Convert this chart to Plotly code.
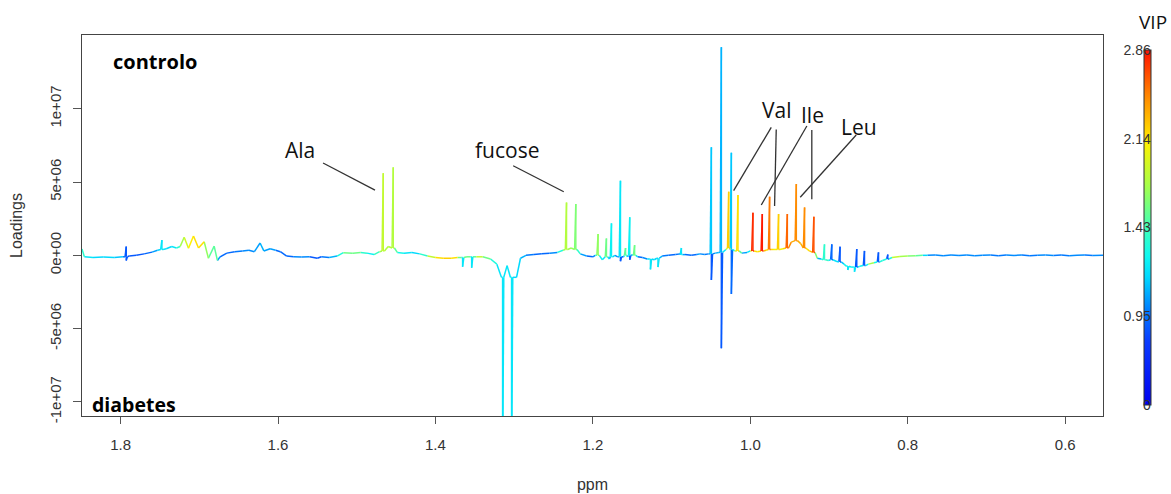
import numpy as np
import plotly.graph_objects as go
from plotly.colors import sample_colorscale

# ---------------- data ----------------
# baseline of the loadings spectrum: ppm, loading (x1e6), VIP
base_ppm = [1.849, 1.846, 1.835, 1.822, 1.808, 1.797, 1.789, 1.780, 1.770, 1.760, 1.753,
            1.742, 1.735, 1.729, 1.7243, 1.7192, 1.7137, 1.7074, 1.701, 1.6938, 1.6884, 1.6811,
            1.677, 1.6735, 1.665, 1.655, 1.645, 1.637, 1.630, 1.6228, 1.618, 1.610, 1.603,
            1.597, 1.589, 1.580, 1.570, 1.560, 1.550, 1.545, 1.535, 1.525, 1.517, 1.505,
            1.495, 1.487, 1.478, 1.471, 1.460, 1.4485, 1.440, 1.430, 1.420, 1.410, 1.400,
            1.390, 1.380, 1.372, 1.360, 1.348, 1.340, 1.330, 1.322, 1.309, 1.297, 1.292,
            1.285, 1.275, 1.265, 1.255, 1.245, 1.238, 1.2277, 1.216, 1.208, 1.200, 1.197,
            1.188, 1.179, 1.172, 1.1685, 1.161, 1.156, 1.1495, 1.143, 1.137, 1.131, 1.122,
            1.112, 1.104, 1.095, 1.089, 1.083, 1.075, 1.068, 1.064, 1.058, 1.053, 1.0445,
            1.040, 1.031, 1.020, 1.011, 1.004, 1.000, 0.991, 0.980, 0.970, 0.9585, 0.948,
            0.936, 0.925, 0.915, 0.910, 0.901, 0.891, 0.881, 0.872, 0.861, 0.850, 0.843,
            0.832, 0.820, 0.810, 0.800, 0.790, 0.781, 0.775, 0.765, 0.755, 0.745, 0.735,
            0.725, 0.715, 0.705, 0.695, 0.685, 0.675, 0.665, 0.655, 0.645, 0.635, 0.625,
            0.615, 0.605, 0.595, 0.585, 0.575, 0.565, 0.552]
base_val = [0.43, -0.10, -0.15, -0.12, -0.15, -0.10, -0.05, 0.00, 0.10, 0.22, 0.35,
            0.45, 0.60, 0.50, 0.60, 1.23, 0.48, 1.32, 0.50, 0.93, -0.20, 0.63,
            -0.35, -0.10, 0.15, 0.25, 0.30, 0.35, 0.25, 0.84, 0.30, 0.45, 0.35,
            0.25, -0.05, -0.10, -0.12, -0.10, -0.20, -0.10, -0.15, -0.05, 0.18, 0.15,
            0.20, 0.15, 0.05, 0.25, 0.60, 0.20, 0.15, 0.20, 0.10, -0.05, -0.15,
            -0.20, -0.20, -0.15, -0.10, -0.10, -0.10, -0.25, -0.60, -0.70, -1.50, -0.20,
            0.00, 0.05, 0.10, 0.15, 0.20, 0.35, 0.50, 0.10, -0.05, -0.10, 0.00,
            -0.30, -0.25, 0.00, -0.10, -0.10, -0.10, 0.05, -0.10, -0.15, -0.25, -0.30,
            -0.05, 0.00, 0.05, 0.10, 0.05, 0.00, 0.05, 0.10, 0.05, 0.10, 0.15,
            0.20, 0.40, 0.30, 0.15, 0.20, 0.30, 0.25, 0.35, 0.40, 0.45, 0.90,
            0.80, 0.30, -0.20, -0.25, -0.35, -0.40, -0.60, -0.80, -0.75, -0.60, -0.50,
            -0.35, -0.15, -0.08, -0.05, -0.02, 0.00, 0.00, 0.03, -0.02, 0.02, -0.01,
            0.02, -0.02, 0.01, 0.03, -0.02, 0.02, -0.01, 0.02, -0.02, 0.01, 0.02,
            -0.01, 0.02, -0.02, 0.01, 0.02, -0.01, 0.00]
base_vip = [1.50, 1.25, 1.20, 1.15, 1.20, 1.05, 0.85, 0.80, 0.85, 0.90, 1.15,
            1.20, 1.15, 1.25, 1.50, 2.00, 1.90, 2.30, 2.00, 2.30, 1.20, 2.00,
            1.20, 0.90, 0.85, 1.00, 0.90, 1.10, 0.90, 1.15, 1.00, 1.10, 1.00,
            0.85, 0.90, 0.85, 1.10, 0.85, 0.80, 0.90, 1.00, 1.20, 1.50, 1.60,
            1.50, 1.30, 1.20, 1.70, 1.80, 1.30, 1.25, 1.20, 1.10, 1.70, 2.10,
            2.20, 2.20, 2.10, 2.10, 2.00, 1.80, 1.40, 1.25, 1.20, 1.10, 1.20,
            1.00, 0.90, 0.85, 0.95, 1.10, 1.60, 1.70, 1.20, 0.90, 0.85, 1.10,
            0.80, 0.80, 1.10, 0.85, 0.85, 0.85, 1.20, 0.85, 0.90, 1.10, 1.15,
            1.00, 0.90, 0.95, 1.00, 0.90, 0.85, 1.00, 1.10, 0.95, 1.00, 1.10,
            1.10, 1.60, 1.60, 1.10, 1.00, 1.40, 1.60, 1.80, 1.90, 1.90, 2.30,
            2.20, 1.90, 0.85, 1.30, 1.50, 1.50, 1.40, 1.30, 1.70, 1.70, 1.80,
            1.90, 1.90, 1.80, 1.70, 1.60, 1.40, 0.95, 1.10, 0.85, 1.10, 0.85,
            1.10, 0.85, 1.10, 0.85, 1.05, 0.85, 1.10, 0.85, 1.05, 0.85, 1.10,
            0.85, 1.05, 0.85, 1.10, 0.85, 1.05, 0.95]

# narrow resonances: centre ppm, local base, maximum, minimum (x1e6),
# VIP of the upper part and VIP of the lower (negative) part
pk_ppm  = [1.7928, 1.7475, 1.4663, 1.4536, 1.3655, 1.354, 1.3147, 1.3033, 1.2335, 1.2217,
           1.1934, 1.1828, 1.1764, 1.165, 1.1585, 1.1532, 1.147, 1.1269, 1.1173, 1.0876,
           1.0495, 1.0368, 1.0275, 1.0241, 1.0157, 0.9967, 0.9848, 0.9755, 0.9641, 0.953,
           0.9416, 0.9311, 0.9193, 0.9058, 0.8965, 0.886, 0.8762, 0.8677, 0.8648, 0.855,
           0.8372, 0.8254]
pk_base = [-0.10, 0.40, 0.30, 0.50, -0.15, -0.10, -1.50, -1.50, 0.40, 0.40,
           0.00, -0.10, -0.10, -0.10, 0.00, 0.00, 0.00, -0.25, -0.20, 0.05,
           0.10, 0.20, 0.50, 0.40, 0.30, 0.30, 0.30, 0.40, 0.40, 0.50,
           1.00, 0.50, 0.20, -0.30, -0.30, -0.45, -0.75, -0.80, -0.80, -0.70,
           -0.45, -0.25]
pk_hi   = [0.60, 1.04, 5.60, 6.00, -0.15, -0.10, -1.50, -1.50, 3.60, 3.50,
           1.45, 1.15, 2.18, 5.09, 0.50, 2.60, 0.70, -0.25, -0.20, 0.50,
           7.37, 14.20, 4.34, 7.00, 4.11, 2.90, 2.82, 4.00, 2.82, 2.82,
           4.86, 3.27, 2.63, 0.75, 0.75, 0.59, -0.75, -0.80, 0.43, 0.30,
           0.20, 0.05]
pk_lo   = [-0.35, 0.40, 0.30, 0.50, -0.78, -0.85, -16.0, -15.5, 0.40, 0.40,
           0.00, -0.10, -0.10, -0.40, 0.00, -0.30, 0.00, -0.96, -0.80, 0.05,
           -1.68, -6.34, 0.50, -2.64, 0.30, 0.30, 0.30, 0.40, 0.40, 0.50,
           1.00, 0.50, 0.20, -0.30, -0.30, -0.45, -1.00, -1.12, -0.80, -0.70,
           -0.45, -0.25]
pk_vip  = [0.85, 1.20, 1.85, 1.80, 1.20, 1.20, 1.20, 1.20, 1.80, 1.65,
           1.70, 1.60, 1.25, 1.20, 1.50, 1.25, 1.55, 1.20, 1.20, 1.20,
           1.12, 1.10, 2.25, 1.12, 2.15, 2.75, 2.80, 2.50, 2.20, 2.60,
           2.45, 2.45, 2.65, 1.35, 0.90, 0.85, 1.20, 1.20, 0.85, 0.85,
           0.85, 0.85]
pk_vip_lo = [0.85, 1.20, 1.85, 1.80, 1.20, 1.20, 1.20, 1.20, 1.80, 1.65,
             1.70, 1.60, 1.25, 0.85, 1.50, 0.85, 1.55, 1.20, 1.20, 1.20,
             0.85, 0.85, 2.25, 0.90, 2.15, 2.75, 2.80, 2.50, 2.20, 2.60,
             2.45, 2.45, 2.65, 1.35, 0.90, 0.85, 1.20, 1.20, 0.85, 0.85,
             0.85, 0.85]

# colour bar: VIP values shown at equally spaced positions
vip_ticks = [0, 0.95, 1.43, 2.14, 2.86]
vip_tick_text = ["0", "0.95", "1.43", "2.14", "2.86"]

x_ticks = [1.8, 1.6, 1.4, 1.2, 1.0, 0.8, 0.6]
x_tick_text = ["1.8", "1.6", "1.4", "1.2", "1.0", "0.8", "0.6"]
y_ticks = [-1e7, -5e6, 0, 5e6, 1e7]
y_tick_text = ["-1e+07", "-5e+06", "0e+00", "5e+06", "1e+07"]

# ---------------- build the spectrum path ----------------
HALF = 0.0015  # half width of a narrow resonance (drawing style)
groups = []
for p, v, c in zip(base_ppm, base_val, base_vip):
    groups.append((p, [(p, v, c)]))
for p, b, hi, lo, c, cl in zip(pk_ppm, pk_base, pk_hi, pk_lo, pk_vip, pk_vip_lo):
    pts = [(p + HALF, b, c)]
    if hi > b:
        pts += [(p, hi, c), (p, b, c)]
    if lo < b:
        pts += [(p, b, cl), (p, lo, cl)]
        pts.append((p - HALF, b, cl))
    else:
        pts.append((p - HALF, b, c))
    groups.append((p, pts))
groups.sort(key=lambda g: -g[0])
seq = [pt for g in groups for pt in g[1]]
xs = np.array([s[0] for s in seq])
ys = np.array([s[1] for s in seq]) * 1e6
vs = np.array([s[2] for s in seq])

pos_ticks = [0, 0.25, 0.5, 0.75, 1.0]
cpos = np.interp(vs, vip_ticks, pos_ticks)

jet = [[0.0, "#0000F0"], [0.18, "#0A3CFF"], [0.27, "#0080FF"], [0.36, "#00D8FF"],
       [0.42, "#10F8F0"], [0.5, "#40FFB8"], [0.62, "#A8FF48"], [0.74, "#FFF000"],
       [0.86, "#FF9000"], [1.0, "#FF1000"]]

NB = 48
seg_x = [[] for _ in range(NB)]
seg_y = [[] for _ in range(NB)]
for i in range(len(xs) - 1):
    c = 0.5 * (cpos[i] + cpos[i + 1])
    k = min(NB - 1, int(c * NB))
    seg_x[k] += [xs[i], xs[i + 1], None]
    seg_y[k] += [ys[i], ys[i + 1], None]

fig = go.Figure()
for k in range(NB):
    if not seg_x[k]:
        continue
    col = sample_colorscale(jet, [(k + 0.5) / NB])[0]
    fig.add_trace(go.Scatter(x=seg_x[k], y=seg_y[k], mode="lines",
                             line=dict(color=col, width=1.5),
                             hoverinfo="skip", showlegend=False))

# colour bar
PLOT_L, PLOT_R, PLOT_T, PLOT_B = 82, 1103, 35, 416
pw, ph = PLOT_R - PLOT_L, PLOT_B - PLOT_T
fig.add_trace(go.Scatter(
    x=[None], y=[None], mode="markers", showlegend=False, hoverinfo="skip",
    marker=dict(color=[0.5], cmin=0, cmax=1, colorscale=jet, showscale=True,
                colorbar=dict(
                    tickvals=pos_ticks, ticktext=vip_tick_text,
                    ticks="", ticklabelposition="inside", ticklabeloverflow="allow",
                    tickfont=dict(family="Liberation Sans", size=14, color="#333"),
                    thickness=7, thicknessmode="pixels",
                    len=355, lenmode="pixels",
                    y=(PLOT_B - 50) / ph, yanchor="top", ypad=0,
                    x=(1144 - PLOT_L) / pw, xanchor="left", xpad=0,
                    outlinewidth=1, outlinecolor="#333",
                ))))

axis_font = dict(family="Liberation Sans", size=15, color="#333")
fig.update_layout(
    width=1171, height=494,
    margin=dict(l=PLOT_L, r=1171 - PLOT_R, t=PLOT_T, b=494 - PLOT_B),
    paper_bgcolor="white", plot_bgcolor="white",
    xaxis=dict(range=[1.849, 0.552], tickvals=x_ticks, ticktext=x_tick_text,
               ticks="outside", ticklen=7, tickcolor="#555", tickwidth=1,
               ticklabelstandoff=8, automargin=False,
               showline=True, linecolor="#444", linewidth=1, mirror=True,
               showgrid=False, zeroline=False, tickfont=axis_font,
               title=dict(text="ppm", font=dict(family="Liberation Sans", size=16, color="#333"),
                          standoff=26)),
    yaxis=dict(range=[-1.096e7, 1.503e7], tickvals=y_ticks, ticktext=y_tick_text,
               tickangle=-90, ticks="outside", ticklen=8, tickcolor="#555", tickwidth=1,
               ticklabelstandoff=6, automargin=False,
               showline=True, linecolor="#444", linewidth=1, mirror=True,
               showgrid=False, zeroline=False, tickfont=axis_font,
               title=dict(text="Loadings", font=dict(family="Liberation Sans", size=16, color="#333"),
                          standoff=20)),
)

lab_font = dict(family="Open Sans", size=21, color="#111")
labels = [("Ala", 1.5720, 7.18e6), ("fucose", 1.3093, 7.18e6), ("Val", 0.9667, 9.91e6),
          ("Ile", 0.9210, 9.57e6), ("Leu", 0.8626, 8.75e6)]
for t, xx, yy in labels:
    fig.add_annotation(x=xx, y=yy, text=t, showarrow=False, font=lab_font,
                       xanchor="center", yanchor="middle")
fig.add_annotation(x=(111 - PLOT_L) / pw, y=(PLOT_B - 62) / ph, xref="paper", yref="paper",
                   text="<b>controlo</b>", showarrow=False,
                   font=dict(family="Open Sans", size=20, color="#000", weight="bold"),
                   xanchor="left", yanchor="middle")
fig.add_annotation(x=(90 - PLOT_L) / pw, y=(PLOT_B - 404) / ph, xref="paper", yref="paper",
                   text="<b>diabetes</b>", showarrow=False,
                   font=dict(family="Open Sans", size=19.5, color="#000", weight="bold"),
                   xanchor="left", yanchor="middle")
fig.add_annotation(x=(1153 - PLOT_L) / pw, y=(PLOT_B - 22) / ph, xref="paper", yref="paper",
                   text="VIP", showarrow=False,
                   font=dict(family="Open Sans", size=19, color="#111"),
                   xanchor="center", yanchor="middle")

leaders = [(1.5428, 6.30e6, 1.4768, 4.45e6), (1.3013, 6.11e6, 1.2370, 4.34e6),
           (0.9734, 8.73e6, 1.0212, 4.41e6), (0.9671, 8.59e6, 0.9692, 3.36e6),
           (0.9282, 8.82e6, 0.9861, 3.43e6), (0.9219, 8.55e6, 0.9219, 3.82e6),
           (0.8655, 8.21e6, 0.9366, 3.96e6)]
for x0, y0, x1, y1 in leaders:
    fig.add_shape(type="line", x0=x0, y0=y0, x1=x1, y1=y1, xref="x", yref="y",
                  line=dict(color="#333", width=1.3))

fig.write_html("out.html", config={"displayModeBar": False},
               post_script="document.body.style.margin='0';document.body.style.overflow='hidden';")
